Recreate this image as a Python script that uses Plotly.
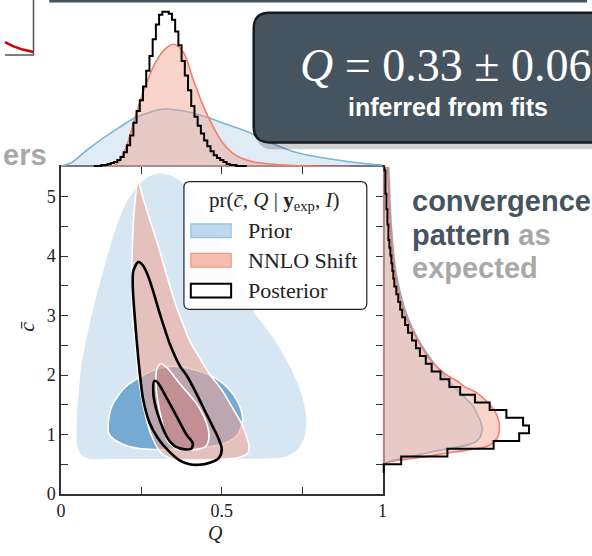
import plotly.graph_objects as go
import numpy as np

W, H = 592, 556

# ---------------- data ----------------
# top marginal, density of Q (arbitrary units)
q_prior_top = [0.0, 0.03, 0.08, 0.13, 0.18, 0.23, 0.28, 0.32, 0.36, 0.41, 0.46, 0.51, 0.57, 0.62, 0.67, 0.72, 0.77, 0.86, 0.93, 1.0]
prior_top = [1, 4, 17, 29, 40, 50, 56, 59, 58, 55, 50, 44, 37, 30, 22, 16, 12, 7, 4, 2]
q_nnlo_top = [0.14, 0.17, 0.20, 0.23, 0.26, 0.29, 0.32, 0.35, 0.38, 0.41, 0.44, 0.47, 0.50, 0.53, 0.56, 0.60, 0.65, 0.72, 0.80, 0.90]
nnlo_top = [0, 2, 18, 50, 80, 104, 119, 125, 117, 90, 64, 43, 26, 15, 9, 5, 3, 1.5, 0.5, 0]
post_top_start, post_top_width = 0.105, 0.01
post_top = [1, 1, 2, 2, 3, 4, 5, 7, 10, 15, 22, 32, 45, 57, 68, 82, 98, 113, 130, 145,
            155, 158, 158, 156, 150, 138, 124, 108, 93, 78, 62, 51, 42, 34, 27, 21, 16, 12, 9, 7,
            5, 3, 2, 2, 1, 1, 1]

# right marginal, density of c-bar (arbitrary units)
c_prior_right = [0.5, 0.55, 0.6, 0.63, 0.7, 0.75, 0.8, 0.87, 0.95, 1.05, 1.15, 1.25, 1.35, 1.48, 1.6, 1.75, 1.9, 2.05, 2.25, 2.58, 3.0, 3.7, 4.5, 5.2, 5.6]
prior_right = [0, 8, 20, 29, 48, 63, 80, 94, 99, 101, 101, 99, 96, 92, 85, 76, 67, 60, 50, 37, 25, 14, 9, 7, 6]
c_nnlo_right = [0.5, 0.55, 0.58, 0.63, 0.68, 0.75, 0.82, 0.95, 1.12, 1.3, 1.42, 1.56, 1.7, 1.81, 1.9, 1.98, 2.1, 2.25, 2.58, 3.02, 3.68, 4.5, 5.17, 5.6]
nnlo_right = [0, 10, 23, 45, 63, 90, 109, 117, 119, 117, 113, 106, 96, 83, 76, 67, 58, 49, 36, 23, 13, 8, 6, 5]
post_right_start, post_right_width = 0.37, 0.13
post_right = [1, 19, 66, 113, 139, 149, 143, 126, 109, 94, 79, 68, 59, 50, 44, 38, 34, 30, 26, 23,
              20, 18, 16, 14, 12, 11, 10, 9, 8, 7, 6, 6, 5, 5, 4, 4, 3, 3, 3, 2]

# joint credible regions (Q, c-bar)
prior_outer_q = [0.09, 0.065, 0.052, 0.05, 0.052, 0.058, 0.066, 0.08, 0.10, 0.13, 0.165, 0.20, 0.24, 0.27, 0.305, 0.345, 0.38, 0.42, 0.47, 0.53, 0.60, 0.655, 0.70, 0.735, 0.755, 0.762, 0.755, 0.735, 0.70, 0.66, 0.55, 0.35, 0.15]
prior_outer_c = [0.60, 0.66, 0.80, 1.05, 1.40, 1.80, 2.20, 2.60, 3.07, 3.70, 4.35, 4.85, 5.18, 5.32, 5.38, 5.34, 5.22, 4.95, 4.50, 3.85, 3.05, 2.65, 2.25, 1.85, 1.50, 1.20, 0.95, 0.75, 0.64, 0.61, 0.60, 0.60, 0.60]
prior_inner_q = [0.15, 0.147, 0.16, 0.20, 0.25, 0.30, 0.35, 0.42, 0.48, 0.52, 0.55, 0.565, 0.55, 0.52, 0.45, 0.35, 0.25, 0.19]
prior_inner_c = [1.00, 1.20, 1.50, 1.80, 1.98, 2.10, 2.15, 2.08, 1.95, 1.78, 1.55, 1.25, 1.00, 0.88, 0.78, 0.75, 0.76, 0.84]
nnlo_outer_q = [0.24, 0.254, 0.28, 0.305, 0.33, 0.357, 0.38, 0.40, 0.43, 0.46, 0.50, 0.53, 0.56, 0.575, 0.585, 0.58, 0.55, 0.48, 0.40, 0.35, 0.31, 0.28, 0.255, 0.24, 0.232, 0.224, 0.22, 0.222, 0.228]
nnlo_outer_c = [5.25, 5.00, 4.55, 4.13, 3.65, 3.18, 2.85, 2.58, 2.30, 2.03, 1.75, 1.48, 1.20, 1.00, 0.80, 0.68, 0.61, 0.58, 0.57, 0.58, 0.70, 1.00, 1.50, 2.00, 2.50, 2.85, 3.50, 4.20, 4.80]
nnlo_inner_q = [0.31, 0.33, 0.37, 0.41, 0.43, 0.455, 0.46, 0.45, 0.41, 0.36, 0.33, 0.315, 0.30, 0.295, 0.298]
nnlo_inner_c = [2.19, 2.12, 1.85, 1.60, 1.45, 1.15, 0.95, 0.80, 0.74, 0.76, 0.90, 1.20, 1.60, 1.91, 2.10]
post_outer_q = [0.24, 0.254, 0.27, 0.29, 0.305, 0.315, 0.34, 0.37, 0.39, 0.42, 0.45, 0.475, 0.49, 0.50, 0.49, 0.465, 0.43, 0.40, 0.37, 0.33, 0.30, 0.275, 0.255, 0.245, 0.235, 0.228, 0.223, 0.225]
post_outer_c = [3.90, 3.85, 3.68, 3.35, 3.07, 2.90, 2.50, 2.15, 2.00, 1.70, 1.37, 1.10, 0.93, 0.75, 0.60, 0.53, 0.49, 0.50, 0.56, 0.75, 0.95, 1.20, 1.60, 2.03, 2.60, 3.07, 3.50, 3.75]
post_inner_q = [0.29, 0.30, 0.325, 0.36, 0.39, 0.41, 0.405, 0.385, 0.355, 0.33, 0.31, 0.295, 0.287]
post_inner_c = [1.90, 1.88, 1.65, 1.30, 1.00, 0.85, 0.76, 0.75, 0.80, 0.95, 1.20, 1.45, 1.70]

x_tickvals = [0, 0.5, 1]
x_ticktext = ["0", "0.5", "1"]
x_minor_tickvals = [0.25, 0.75]
y_tickvals = [0, 1, 2, 3, 4, 5]
y_ticktext = ["0", "1", "2", "3", "4", "5"]
y_minor_tickvals = [0.5, 1.5, 2.5, 3.5, 4.5]

legend_title = "pr(<i>c̄</i>, <i>Q</i> | <b>y</b><sub>exp</sub>, <i>I</i>)"
legend_labels = ["Prior", "NNLO Shift", "Posterior"]

# ---------------- helpers ----------------
def px(x):
    return x / W


def py(y):
    return 1 - y / H


def steps(start, width, vals):
    xs, ys = [start], [0]
    for i, v in enumerate(vals):
        lo = start + i * width
        xs += [lo, lo + width]
        ys += [v, v]
    xs.append(start + len(vals) * width)
    ys.append(0)
    return xs, ys


def rounded_rect(x0, y0, x1, y1, r):
    pts = [
        f"M {px(x0 + r)},{py(y0)}",
        f"L {px(x1 - r)},{py(y0)}",
        f"Q {px(x1)},{py(y0)} {px(x1)},{py(y0 + r)}",
        f"L {px(x1)},{py(y1 - r)}",
        f"Q {px(x1)},{py(y1)} {px(x1 - r)},{py(y1)}",
        f"L {px(x0 + r)},{py(y1)}",
        f"Q {px(x0)},{py(y1)} {px(x0)},{py(y1 - r)}",
        f"L {px(x0)},{py(y0 + r)}",
        f"Q {px(x0)},{py(y0)} {px(x0 + r)},{py(y0)}",
        "Z",
    ]
    return " ".join(pts)


BLUE_LINE = "rgb(125,180,215)"
BLUE_FILL = "rgba(185,212,235,0.45)"
ORANGE_LINE = "rgb(240,128,108)"
ORANGE_FILL = "rgba(242,160,140,0.45)"
SLATE = "#46545f"
GREY_TXT = "#a8a8a8"
SERIF = "Liberation Serif"
SANS = "Liberation Sans"

fig = go.Figure()

# ---------------- joint panel ----------------
def closed(q, c):
    return list(q) + [q[0]], list(c) + [c[0]]

qq, cc = closed(prior_outer_q, prior_outer_c)
fig.add_trace(go.Scatter(x=qq, y=cc, fill="toself", fillcolor="rgb(214,230,243)",
                         line=dict(color="rgb(214,230,243)", width=1, shape="spline", smoothing=0.8),
                         mode="lines", hoverinfo="skip", showlegend=False))
qq, cc = closed(prior_inner_q, prior_inner_c)
fig.add_trace(go.Scatter(x=qq, y=cc, fill="toself", fillcolor="rgb(118,170,211)",
                         line=dict(color="white", width=1.6, shape="spline", smoothing=0.8),
                         mode="lines", hoverinfo="skip", showlegend=False))
qq, cc = closed(nnlo_outer_q, nnlo_outer_c)
fig.add_trace(go.Scatter(x=qq, y=cc, fill="toself", fillcolor="rgba(240,165,150,0.58)",
                         line=dict(color="white", width=1.6, shape="spline", smoothing=0.8),
                         mode="lines", hoverinfo="skip", showlegend=False))
qq, cc = closed(nnlo_inner_q, nnlo_inner_c)
fig.add_trace(go.Scatter(x=qq, y=cc, fill="toself", fillcolor="rgba(200,110,110,0.42)",
                         line=dict(color="white", width=1.6, shape="spline", smoothing=0.8),
                         mode="lines", hoverinfo="skip", showlegend=False))
for q, c in [(post_outer_q, post_outer_c), (post_inner_q, post_inner_c)]:
    qq, cc = closed(q, c)
    fig.add_trace(go.Scatter(x=qq, y=cc, mode="lines",
                             line=dict(color="black", width=2.6, shape="spline", smoothing=0.8),
                             hoverinfo="skip", showlegend=False))

# ---------------- top marginal ----------------
fig.add_trace(go.Scatter(x=q_prior_top, y=prior_top, xaxis="x2", yaxis="y2", mode="lines",
                         fill="tozeroy", fillcolor=BLUE_FILL,
                         line=dict(color=BLUE_LINE, width=1.6, shape="spline"),
                         hoverinfo="skip", showlegend=False))
fig.add_trace(go.Scatter(x=q_nnlo_top, y=nnlo_top, xaxis="x2", yaxis="y2", mode="lines",
                         fill="tozeroy", fillcolor=ORANGE_FILL,
                         line=dict(color=ORANGE_LINE, width=1.6, shape="spline"),
                         hoverinfo="skip", showlegend=False))
sx, sy = steps(post_top_start, post_top_width, post_top)
fig.add_trace(go.Scatter(x=sx, y=sy, xaxis="x2", yaxis="y2", mode="lines",
                         line=dict(color="black", width=2), hoverinfo="skip", showlegend=False))

# ---------------- right marginal ----------------
fig.add_trace(go.Scatter(x=prior_right, y=c_prior_right, xaxis="x3", yaxis="y3", mode="lines",
                         fill="tozerox", fillcolor=BLUE_FILL,
                         line=dict(color=BLUE_LINE, width=1.6, shape="spline"),
                         hoverinfo="skip", showlegend=False))
fig.add_trace(go.Scatter(x=nnlo_right, y=c_nnlo_right, xaxis="x3", yaxis="y3", mode="lines",
                         fill="tozerox", fillcolor=ORANGE_FILL,
                         line=dict(color=ORANGE_LINE, width=1.6, shape="spline"),
                         hoverinfo="skip", showlegend=False))
sy, sx = steps(post_right_start, post_right_width, post_right)
fig.add_trace(go.Scatter(x=sx, y=sy, xaxis="x3", yaxis="y3", mode="lines",
                         line=dict(color="black", width=2), hoverinfo="skip", showlegend=False))

# ---------------- axes ----------------
XD = [px(57), px(384)]
YD = [py(503), py(170)]
axis_common = dict(showline=True, linecolor="#333333", linewidth=1.5, mirror="ticks",
                   ticks="inside", ticklen=7, tickwidth=1.3, tickcolor="#333333",
                   showgrid=False, zeroline=False,
                   tickfont=dict(family=SERIF, size=18, color="#222222"))
minor_common = dict(ticks="inside", ticklen=7, tickwidth=1.3, tickcolor="#333333", showgrid=False)
fig.update_layout(
    width=W, height=H, margin=dict(l=0, r=0, t=0, b=0),
    paper_bgcolor="white", plot_bgcolor="white",
    xaxis=dict(domain=XD, range=[0, 1], tickvals=x_tickvals, ticktext=x_ticktext,
               minor=dict(tickvals=x_minor_tickvals, **minor_common), **axis_common),
    yaxis=dict(domain=YD, range=[0, 5.5], tickvals=y_tickvals, ticktext=y_ticktext,
               minor=dict(tickvals=y_minor_tickvals, **minor_common), **axis_common),
    xaxis2=dict(domain=XD, range=[0, 1], anchor="y2", visible=False),
    yaxis2=dict(domain=[py(170), 1], range=[0, 170], anchor="x2", visible=False),
    xaxis3=dict(domain=[px(384), 1], range=[0, 208], anchor="y3", visible=False),
    yaxis3=dict(domain=YD, range=[0, 5.5], anchor="x3", visible=False),
)

shapes = []
annots = []

# custom legend
shapes.append(dict(type="path", path=rounded_rect(182, 185, 368, 315, 6), xref="paper", yref="paper",
                   fillcolor="rgba(255,255,255,0.88)", line=dict(color="#222222", width=1.2), layer="above"))
patch_styles = [("rgb(190,215,236)", "rgb(150,192,222)", 1.2),
                ("rgb(246,190,176)", "rgb(240,150,130)", 1.2),
                ("white", "black", 2)]
row_y = [235, 265, 296]
for (fc, lc, lw), yy, lab in zip(patch_styles, row_y, legend_labels):
    shapes.append(dict(type="rect", xref="paper", yref="paper", x0=px(189), x1=px(230),
                       y0=py(yy + 7), y1=py(yy - 7), fillcolor=fc, line=dict(color=lc, width=lw), layer="above"))
    annots.append(dict(text=lab, x=px(245), y=py(yy), xref="paper", yref="paper", xanchor="left",
                       yanchor="middle", showarrow=False, font=dict(family=SERIF, size=22, color="#222222")))
annots.append(dict(text=legend_title, x=px(274), y=py(205), xref="paper", yref="paper", xanchor="center",
                   yanchor="middle", showarrow=False, font=dict(family=SERIF, size=21, color="#222222")))

# axis titles
annots.append(dict(text="<i>Q</i>", x=px(214), y=py(543), xref="paper", yref="paper", showarrow=False,
                   xanchor="center", yanchor="middle",
                   font=dict(family=SERIF, size=20, color="#222222")))
annots.append(dict(text="<i>c̄</i>", x=px(21), y=py(332), xref="paper", yref="paper", showarrow=False,
                   xanchor="center", yanchor="middle",
                   textangle=-90, font=dict(family=SERIF, size=22, color="#222222")))

# slide decorations
shapes.append(dict(type="rect", xref="paper", yref="paper", x0=px(45), x1=1, y0=py(2.5), y1=1,
                   fillcolor=SLATE, line=dict(width=0), layer="above"))
shapes.append(dict(type="path", xref="paper", yref="paper",
                   path=f"M {px(29)},1 L {px(29)},{py(56)} L 0,{py(56)}",
                   line=dict(color="#555555", width=1.5), layer="above"))
shapes.append(dict(type="path", xref="paper", yref="paper",
                   path=f"M 0,{py(43)} L {px(8)},{py(47)} L {px(18)},{py(50.5)} L {px(29)},{py(53)}",
                   line=dict(color="#cc0000", width=2.5), layer="above"))
# box with shadow
shapes.append(dict(type="path", path=rounded_rect(256, 19, 660, 152, 16), xref="paper", yref="paper",
                   fillcolor="rgba(0,0,0,0.18)", line=dict(width=0), layer="above"))
shapes.append(dict(type="path", path=rounded_rect(253, 13, 660, 145, 16), xref="paper", yref="paper",
                   fillcolor=SLATE, line=dict(color="#151a1e", width=2.5), layer="above"))
annots.append(dict(text="<i>Q</i> = 0.33 ± 0.06", x=px(298), y=py(67), xref="paper", yref="paper",
                   xanchor="left", yanchor="middle", showarrow=False,
                   font=dict(family=SERIF, size=46, color="white")))
annots.append(dict(text="<b>inferred from fits</b>", x=px(451), y=py(109), xref="paper", yref="paper",
                   xanchor="center", yanchor="middle", showarrow=False,
                   font=dict(family=SANS, size=25, color="white")))
annots.append(dict(text="<b>ers</b>", x=px(45), y=py(158), xref="paper", yref="paper",
                   xanchor="right", yanchor="middle", showarrow=False,
                   font=dict(family=SANS, size=29, color=GREY_TXT)))
right_lines = [
    (f"<b><span style='color:{SLATE}'>convergence</span></b>", 205),
    (f"<b><span style='color:{SLATE}'>pattern</span> <span style='color:{GREY_TXT}'>as</span></b>", 239),
    (f"<b><span style='color:{GREY_TXT}'>expected</span></b>", 273),
]
for txt, yy in right_lines:
    annots.append(dict(text=txt, x=px(412), y=py(yy), xref="paper", yref="paper", xanchor="left",
                       yanchor="middle", showarrow=False, font=dict(family=SANS, size=29, color=SLATE)))

fig.update_layout(shapes=shapes, annotations=annots)
fig.write_html("out.html")
